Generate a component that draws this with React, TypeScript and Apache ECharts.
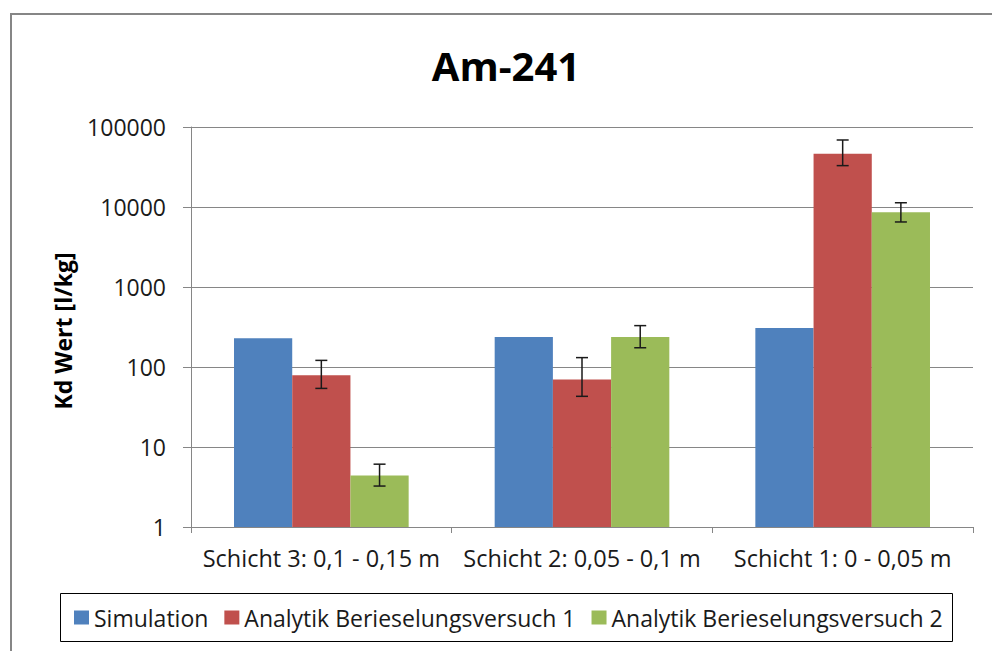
import React, { useEffect, useRef } from "react";
import * as echarts from "echarts";

const categories = ["Schicht 3: 0,1 - 0,15 m", "Schicht 2: 0,05 - 0,1 m", "Schicht 1: 0 - 0,05 m"];
const seriesNames = ["Simulation", "Analytik Berieselungsversuch 1", "Analytik Berieselungsversuch 2"];
const simulation = [228, 237, 307];
const analytik1 = [79, 70, 46400];
const analytik2 = [4.4, 237, 8580];
const err1Low = [54, 43, 32900];
const err1High = [121, 131, 68800];
const err2Low = [3.25, 174, 6500];
const err2High = [6.1, 329, 11300];
const yTicks = [1, 10, 100, 1000, 10000, 100000];

const colors = ["#4F81BD", "#C0504D", "#9BBB59"];
const FONT = "Open Sans";
const CAT_GAP = 0.33;

function errorSeries(seriesIdx: number, low: number[], high: number[]) {
  return {
    type: "custom",
    name: seriesNames[seriesIdx] + " Fehler",
    z: 10,
    silent: true,
    encode: { x: 0, y: [1, 2] },
    data: categories.map((_, i) => [i, low[i], high[i]]),
    renderItem: (params: any, api: any) => {
      const ci = api.value(0);
      const lo = api.coord([ci, api.value(1)]);
      const hi = api.coord([ci, api.value(2)]);
      const catW = api.size([1, 1])[0];
      const barW = (catW * (1 - CAT_GAP)) / 3;
      const cx = lo[0] + (seriesIdx - 1) * barW;
      const half = 6;
      const style = { stroke: "#1a1a1a", lineWidth: 1.5 };
      return {
        type: "group",
        children: [
          { type: "line", shape: { x1: cx, y1: lo[1], x2: cx, y2: hi[1] }, style },
          { type: "line", shape: { x1: cx - half, y1: lo[1], x2: cx + half, y2: lo[1] }, style },
          { type: "line", shape: { x1: cx - half, y1: hi[1], x2: cx + half, y2: hi[1] }, style },
        ],
      };
    },
  };
}

export default function App() {
  const ref = useRef<HTMLDivElement>(null);
  useEffect(() => {
    if (!ref.current) return;
    const chart = echarts.init(ref.current, null, { renderer: "svg" });
    const axisGray = "#868686";
    chart.setOption({
      animation: false,
      backgroundColor: "#ffffff",
      color: colors,
      grid: { left: 191, right: 19, top: 127, bottom: 124, containLabel: false },
      graphic: [
        {
          type: "rect",
          shape: { x: 11, y: 14, width: 1100, height: 800 },
          style: { fill: "none", stroke: axisGray, lineWidth: 2 },
          z: -1,
        },
        {
          type: "text",
          x: 506,
          y: 65,
          style: {
            text: "Am-241",
            font: `bold 40px ${FONT}`,
            fill: "#000",
            textAlign: "center",
            textVerticalAlign: "middle",
          },
        },
        {
          type: "text",
          x: 63,
          y: 331,
          rotation: Math.PI / 2,
          style: {
            text: "Kd Wert [l/kg]",
            font: `bold 23px ${FONT}`,
            fill: "#000",
            textAlign: "center",
            textVerticalAlign: "middle",
          },
        },
        {
          type: "rect",
          shape: { x: 60.5, y: 593.5, width: 892, height: 48 },
          style: { fill: "none", stroke: "#000", lineWidth: 1 },
        },
      ],
      legend: {
        data: seriesNames,
        left: 74,
        top: 605,
        padding: 0,
        icon: "rect",
        itemWidth: 15,
        itemHeight: 14,
        itemGap: 16,
        textStyle: { fontFamily: FONT, fontSize: 23, color: "#1a1a1a", lineHeight: 25 },
      },
      xAxis: {
        type: "category",
        data: categories,
        boundaryGap: true,
        axisLine: { lineStyle: { color: axisGray, width: 1 } },
        axisTick: { show: true, length: 6, lineStyle: { color: axisGray } },
        axisLabel: { interval: 0, fontFamily: FONT, fontSize: 23.5, color: "#1a1a1a", margin: 19 },
        splitLine: { show: false },
      },
      yAxis: {
        type: "log",
        logBase: 10,
        min: yTicks[0],
        max: yTicks[yTicks.length - 1],
        axisLine: { show: true, lineStyle: { color: axisGray, width: 1 } },
        axisTick: { show: true, length: 8, inside: false, lineStyle: { color: axisGray } },
        axisLabel: {
          fontFamily: FONT,
          fontSize: 23,
          color: "#1a1a1a",
          margin: 25,
          formatter: (v: number) => String(Math.round(v)),
        },
        splitLine: { show: true, lineStyle: { color: axisGray, width: 1 } },
      },
      series: [
        {
          type: "bar",
          name: seriesNames[0],
          data: simulation,
          barGap: "0%",
          barCategoryGap: CAT_GAP * 100 + "%",
          itemStyle: { color: colors[0] },
        },
        {
          type: "bar",
          name: seriesNames[1],
          data: analytik1,
          barGap: "0%",
          barCategoryGap: CAT_GAP * 100 + "%",
          itemStyle: { color: colors[1] },
        },
        {
          type: "bar",
          name: seriesNames[2],
          data: analytik2,
          barGap: "0%",
          barCategoryGap: CAT_GAP * 100 + "%",
          itemStyle: { color: colors[2] },
        },
        errorSeries(1, err1Low, err1High),
        errorSeries(2, err2Low, err2High),
      ],
    });
    return () => chart.dispose();
  }, []);
  return (
    <div
      ref={ref}
      style={{ position: "fixed", left: 0, top: 0, width: 992, height: 651, background: "#fff" }}
    />
  );
}
